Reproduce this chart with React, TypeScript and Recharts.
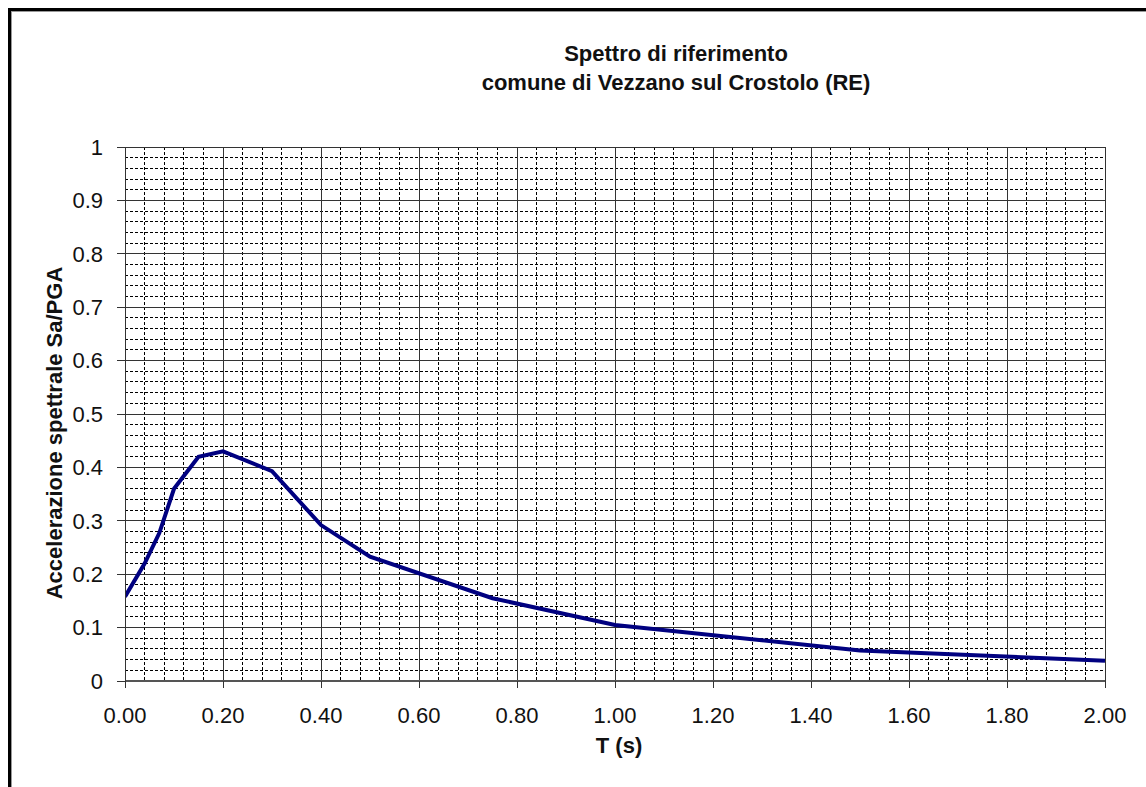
import { CartesianGrid, Line, LineChart, XAxis, YAxis } from 'recharts';

const periods = [0, 0.04, 0.07, 0.1, 0.15, 0.2, 0.3, 0.4, 0.5, 0.75, 1.0, 1.5, 2.0];
const spectrum = [0.158, 0.22, 0.277, 0.36, 0.42, 0.43, 0.393, 0.292, 0.233, 0.155, 0.105, 0.057, 0.038];

const xTicks = [0, 0.2, 0.4, 0.6, 0.8, 1.0, 1.2, 1.4, 1.6, 1.8, 2.0];
const yTicks = [0, 0.1, 0.2, 0.3, 0.4, 0.5, 0.6, 0.7, 0.8, 0.9, 1];

const titleLines = ['Spettro di riferimento', 'comune di Vezzano sul Crostolo (RE)'];
const xTitle = 'T (s)';
const yTitle = 'Accelerazione spettrale Sa/PGA';

// minor grid: 5 subdivisions between major lines
const subdivide = (major: number[]) => {
  const out: number[] = [];
  for (let i = 0; i < major.length - 1; i++) {
    const step = (major[i + 1] - major[i]) / 5;
    for (let k = 1; k < 5; k++) out.push(+(major[i] + step * k).toFixed(4));
  }
  return out;
};
const xMinor = subdivide(xTicks);
const yMinor = subdivide(yTicks);

const data = periods.map((t, i) => ({ t, sa: spectrum[i] }));

const FONT = '"Liberation Sans", Arial, sans-serif';

export default function App() {
  return (
    <div style={{ position: 'relative', width: 1146, height: 787, background: '#fff', fontFamily: FONT }}>
      <style>
        {'html,body{margin:0;overflow:hidden;}' +
          '.recharts-cartesian-grid line,.recharts-cartesian-axis-line,.recharts-cartesian-axis-tick-line{shape-rendering:crispEdges;}'}
      </style>
      <div
        style={{
          position: 'absolute',
          left: 8,
          top: 8,
          right: 0,
          bottom: 0,
          borderTop: '3px solid #000',
          borderLeft: '3px solid #000',
        }}
      >
        <div
          style={{
            position: 'absolute',
            left: 0,
            top: 0,
            right: 0,
            bottom: 0,
            borderTop: '1px solid #999',
            borderLeft: '1px solid #999',
          }}
        />
      </div>
      <LineChart
        width={1146}
        height={787}
        data={data}
        margin={{ top: 147, right: 41, bottom: 66, left: 65 }}
        style={{ position: 'absolute', left: 0, top: 0 }}
      >
        <CartesianGrid
          horizontalValues={yMinor}
          verticalValues={xMinor}
          stroke="#000"
          strokeDasharray="3 2"
          strokeWidth={1}
        />
        <CartesianGrid
          horizontalValues={yTicks}
          verticalValues={xTicks}
          stroke="#333"
          strokeWidth={1}
        />
        <XAxis
          dataKey="t"
          type="number"
          domain={[0, 2]}
          ticks={xTicks}
          interval={0}
          tickFormatter={(v: number) => v.toFixed(2)}
          height={40}
          tickSize={7}
          tickMargin={19}
          tick={{ fontSize: 22, fill: '#111', fontFamily: FONT }}
          tickLine={{ stroke: '#333' }}
          axisLine={{ stroke: '#555', strokeWidth: 2 }}
          allowDataOverflow
        />
        <YAxis
          type="number"
          domain={[0, 1]}
          ticks={yTicks}
          interval={0}
          width={60}
          tickSize={8}
          tickMargin={14}
          tick={{ fontSize: 22, fill: '#111', fontFamily: FONT }}
          tickLine={{ stroke: '#333' }}
          axisLine={{ stroke: '#333' }}
          allowDataOverflow
        />
        <Line
          dataKey="sa"
          type="linear"
          stroke="#000080"
          strokeWidth={4}
          dot={false}
          activeDot={false}
          isAnimationActive={false}
        />
      </LineChart>
      <svg
        width={1146}
        height={787}
        style={{ position: 'absolute', left: 0, top: 0, pointerEvents: 'none' }}
      >
        <g fontFamily={FONT} fontWeight="bold" fontSize={22} fill="#111">
          <text x={676} y={61} textAnchor="middle">{titleLines[0]}</text>
          <text x={676} y={90} textAnchor="middle">{titleLines[1]}</text>
          <text x={619} y={753} textAnchor="middle">{xTitle}</text>
          <text x={62} y={433} textAnchor="middle" transform="rotate(-90 62 433)">{yTitle}</text>
        </g>
      </svg>
    </div>
  );
}
